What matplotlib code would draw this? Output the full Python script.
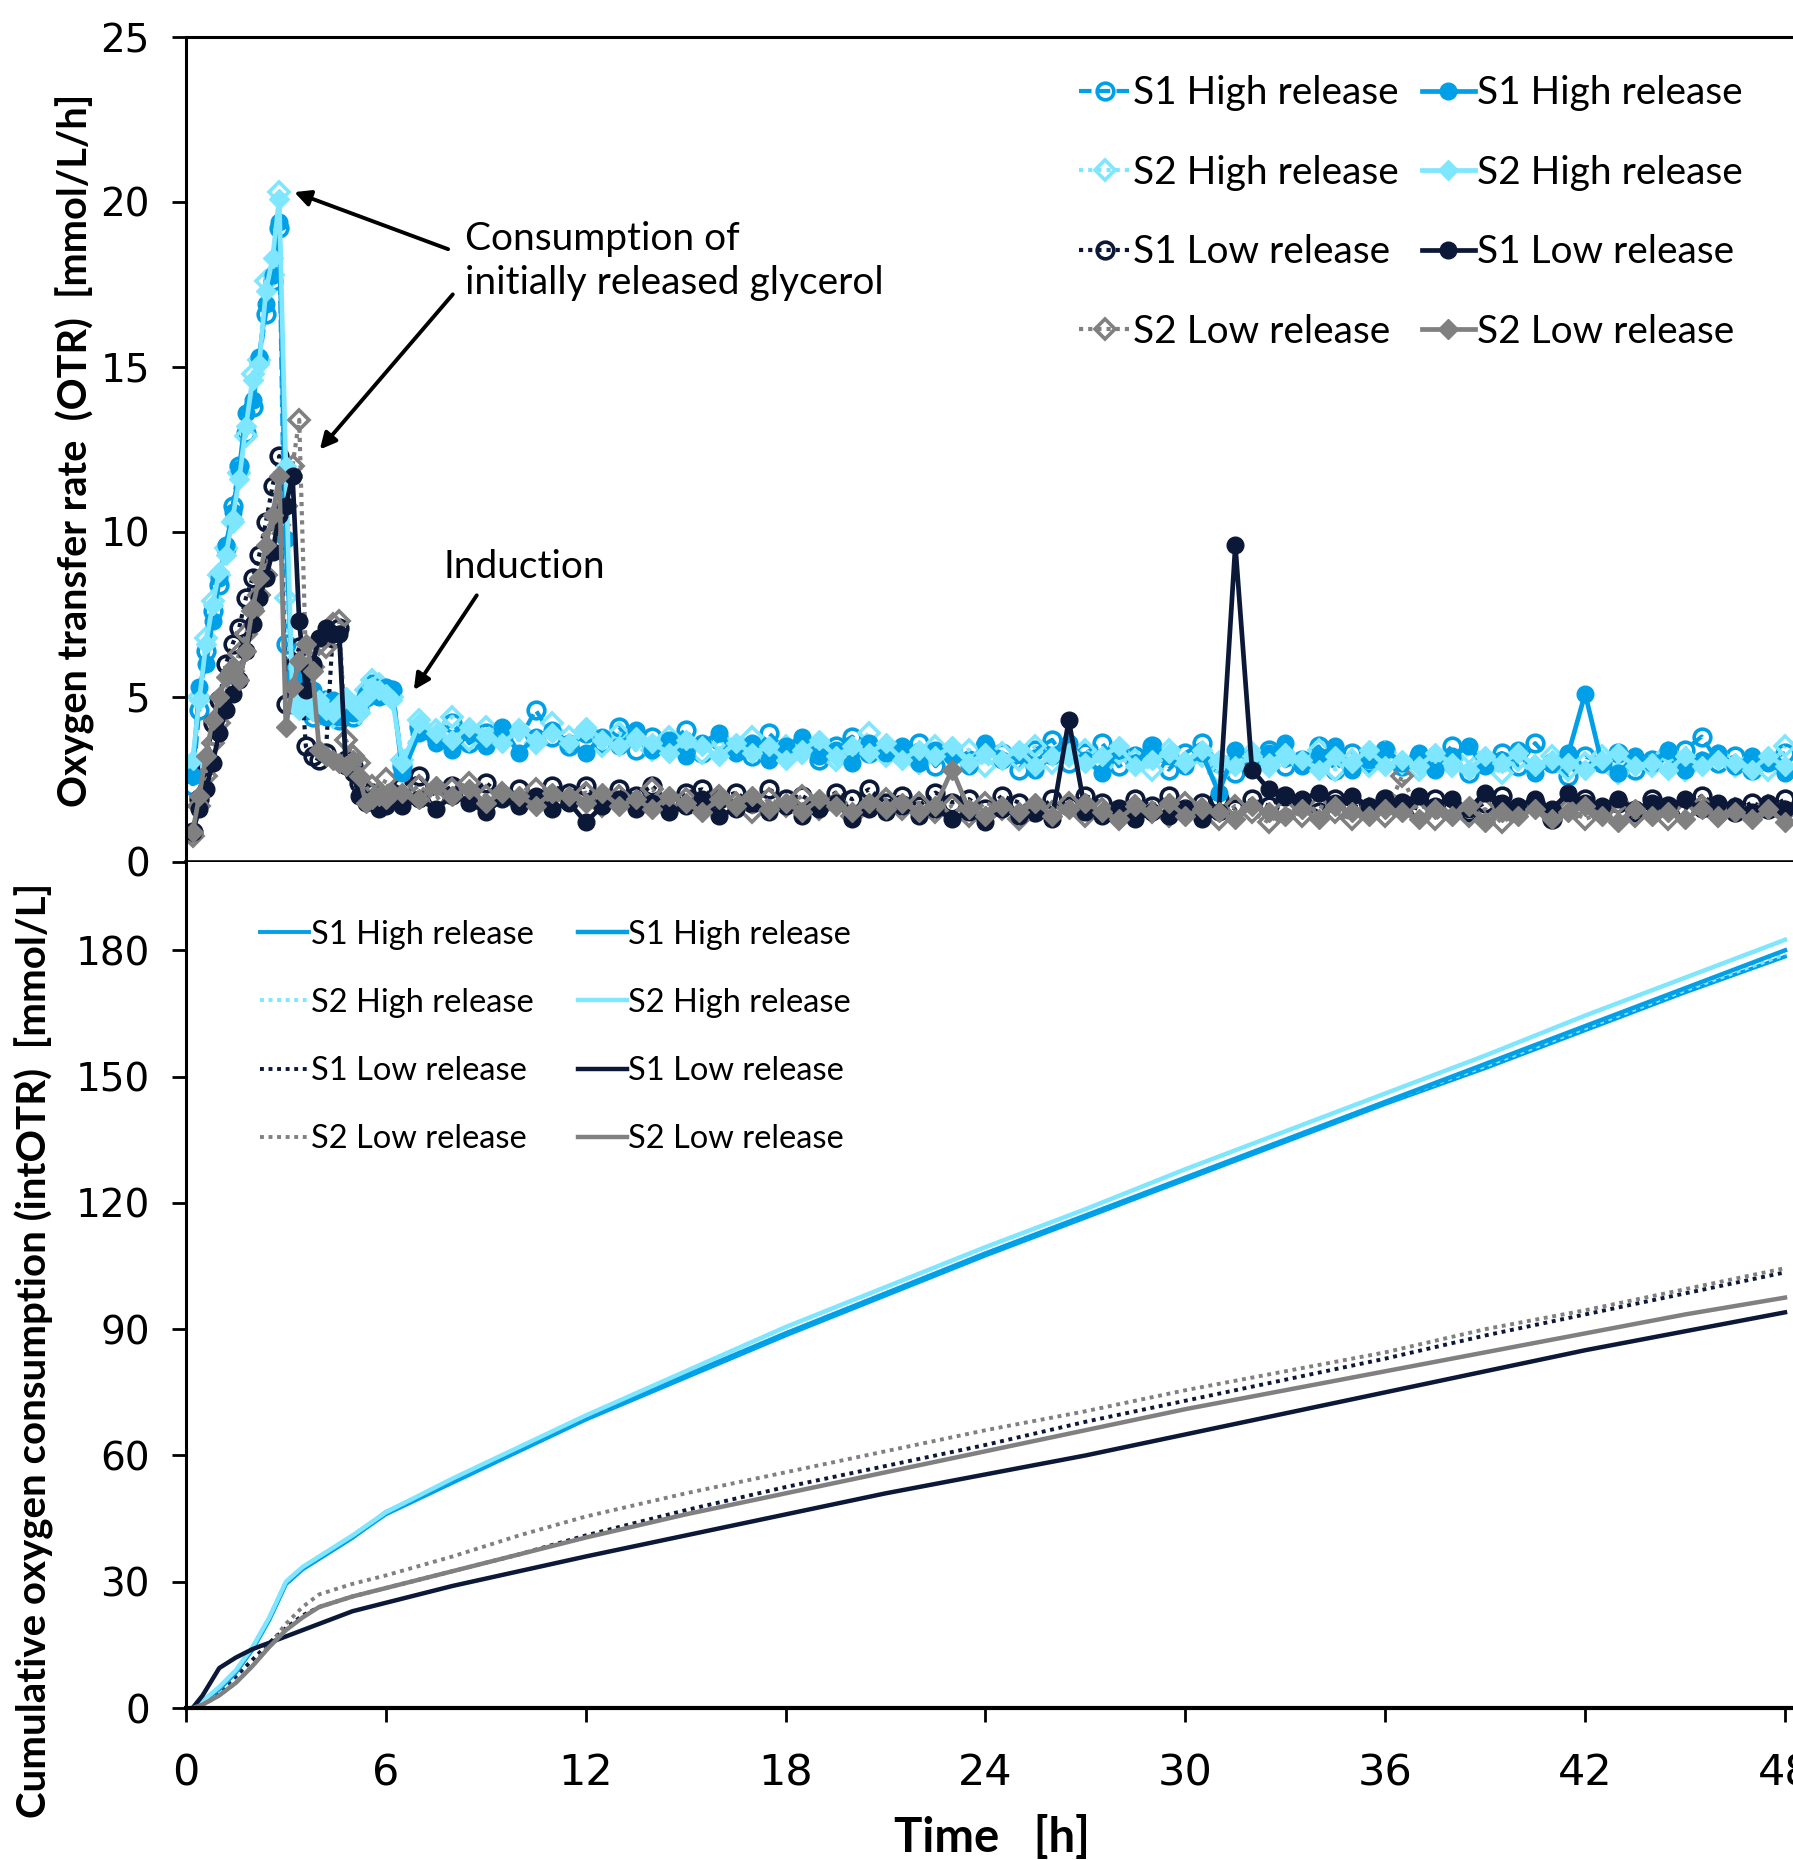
import numpy as np
import matplotlib
matplotlib.use("Agg")
import matplotlib.pyplot as plt

# ---- sampling times [h] ----
t_early = np.round(np.arange(0.2, 6.21, 0.2), 2)      # 0.2 ... 6.2
t_late = np.round(np.arange(6.5, 48.01, 0.5), 2)      # 6.5 ... 48.0

# ---- OTR [mmol/L/h] ----
s1h_o = [2.3, 4.6, 6.4, 7.6, 8.4, 9.5, 10.8, 12.0, 13.0, 13.8, 15.2, 16.6, 17.6, 19.2, 6.6, 4.8,
         5.0, 4.6, 4.4, 4.6, 4.9, 4.5, 4.3, 4.6, 4.4, 4.6, 5.0, 5.4, 5.3, 5.1, 5.2,
         2.9, 4.1, 3.8, 4.2, 3.6, 3.9, 4.0, 3.7, 4.6, 3.8,
         3.5, 3.9, 3.6, 4.1, 3.4, 3.8, 3.6, 4.0, 3.3, 3.7,
         3.5, 3.2, 3.9, 3.4, 3.6, 3.1, 3.5, 3.8, 3.3, 3.4,
         3.2, 3.6, 2.9, 3.4, 3.1, 3.5, 3.3, 2.8, 3.4, 3.7,
         3.0, 3.3, 3.6, 2.9, 3.2, 3.5, 2.8, 3.3, 3.6, 3.0,
         2.7, 3.2, 3.4, 2.9, 3.1, 3.5, 2.8, 3.3, 3.0, 3.4,
         2.9, 3.2, 3.0, 3.5, 2.7, 3.1, 3.3, 2.9, 3.6, 3.0,
         2.6, 3.2, 3.0, 3.3, 2.8, 3.1, 2.9, 3.4, 3.8, 3.0,
         3.2, 2.8, 3.1, 3.3]
s2h_o = [3.0, 5.0, 6.8, 7.9, 8.7, 9.5, 10.3, 11.8, 12.9, 14.8, 15.2, 17.6, 17.8, 20.3, 8.0, 5.0,
         4.8, 5.2, 4.6, 4.5, 4.8, 4.4, 4.6, 4.9, 4.7, 4.5, 5.2, 5.5, 5.4, 5.2, 5.0,
         3.1, 4.3, 4.0, 4.4, 3.7, 4.1, 3.8, 4.0, 3.6, 4.2,
         3.8, 4.0, 3.5, 3.9, 3.7, 3.4, 3.8, 3.6, 3.3, 3.7,
         3.4, 3.8, 3.2, 3.5, 3.3, 3.6, 3.1, 3.4, 3.9, 3.2,
         3.3, 3.0, 3.5, 3.2, 3.4, 2.9, 3.3, 3.1, 3.5, 3.0,
         3.2, 3.4, 2.9, 3.3, 3.1, 2.8, 3.4, 3.0, 3.2, 2.7,
         3.1, 3.3, 2.9, 3.2, 3.0, 3.4, 2.8, 3.1, 2.9, 3.3,
         3.0, 2.8, 3.2, 2.9, 3.3, 3.0, 2.7, 3.1, 2.9, 3.2,
         2.8, 3.0, 3.2, 2.7, 3.1, 2.9, 3.3, 2.8, 3.0, 3.2,
         2.9, 3.1, 2.8, 3.5]
s1l_o = [0.9, 1.9, 2.9, 4.2, 4.9, 6.0, 6.6, 7.1, 8.0, 8.6, 9.3, 10.3, 11.4, 12.3, 4.8, 5.9,
         6.5, 3.5, 3.2, 3.1, 3.3, 6.8, 7.1, 3.1, 2.9, 2.4, 1.9, 2.1, 1.9, 2.0, 2.1,
         2.3, 2.6, 2.0, 2.3, 2.1, 2.4, 2.0, 2.2, 1.9, 2.3,
         2.1, 2.3, 1.9, 2.2, 2.0, 2.3, 1.8, 2.1, 2.2, 1.9,
         2.1, 1.8, 2.2, 1.9, 2.0, 1.7, 2.1, 1.9, 2.2, 1.8,
         2.0, 1.7, 2.1, 1.8, 1.9, 1.6, 2.0, 1.8, 1.5, 1.9,
         1.7, 2.0, 1.8, 1.6, 1.9, 1.7, 2.0, 1.6, 1.8, 1.9,
         1.6, 1.9, 1.7, 2.0, 1.8, 1.5, 1.9, 1.7, 1.6, 1.9,
         1.8, 1.6, 1.9, 1.7, 1.5, 1.8, 2.0, 1.6, 1.8, 1.3,
         1.7, 1.9, 1.6, 1.8, 1.5, 1.9, 1.7, 1.6, 2.0, 1.7,
         1.5, 1.8, 1.6, 1.9]
s2l_o = [0.8, 1.7, 2.6, 3.6, 4.2, 5.1, 5.8, 6.3, 6.9, 7.6, 8.1, 8.7, 9.9, 10.2, 10.8, 12.0,
         13.4, 6.2, 5.9, 6.6, 6.5, 7.2, 7.3, 3.7, 3.2, 3.0, 2.2, 2.3, 2.1, 2.5, 2.0,
         2.0, 2.3, 1.9, 2.2, 2.4, 2.0, 2.1, 1.8, 2.2, 2.0,
         1.9, 2.1, 1.7, 2.0, 1.8, 2.2, 1.6, 1.9, 1.7, 2.0,
         1.8, 1.5, 1.9, 1.7, 2.0, 1.6, 1.8, 1.4, 1.7, 1.9,
         1.6, 1.8, 1.5, 1.7, 1.4, 1.8, 1.6, 1.3, 1.7, 1.5,
         1.8, 1.4, 1.6, 1.3, 1.7, 1.5, 1.4, 1.8, 1.6, 1.3,
         1.7, 1.5, 1.2, 1.6, 1.4, 1.7, 1.5, 1.3, 1.6, 1.4,
         2.6, 1.5, 1.3, 1.7, 1.4, 1.6, 1.2, 1.5, 1.7, 1.4,
         1.6, 1.3, 1.5, 1.8, 1.4, 1.6, 1.3, 1.5, 1.7, 1.4,
         1.6, 1.4, 1.7, 1.5]
s1h_f = [2.6, 5.3, 6.0, 7.3, 8.6, 9.6, 10.6, 11.9, 13.6, 14.0, 15.3, 16.9, 17.8, 19.4, 9.8, 5.6,
         5.4, 4.8, 5.2, 4.6, 4.4, 4.9, 4.4, 4.7, 4.5, 4.8, 5.1, 5.2, 5.0, 5.3, 5.2,
         2.7, 3.9, 3.6, 3.4, 3.9, 3.5, 4.1, 3.3, 3.8, 4.0,
         3.6, 3.3, 3.8, 3.5, 4.0, 3.4, 3.7, 3.2, 3.6, 3.9,
         3.3, 3.6, 3.1, 3.5, 3.8, 3.2, 3.4, 3.0, 3.6, 3.3,
         3.5, 3.0, 3.4, 3.2, 2.9, 3.6, 3.1, 3.3, 2.8, 3.2,
         3.6, 3.1, 2.7, 3.4, 3.0, 3.5, 3.2, 2.9, 3.3, 2.1,
         3.4, 3.0, 3.3, 3.6, 2.9, 3.2, 3.5, 2.8, 3.1, 3.4,
         3.0, 3.3, 2.8, 3.2, 3.5, 2.9, 3.1, 3.4, 2.7, 3.0,
         3.3, 5.1, 3.0, 2.7, 3.2, 3.0, 3.4, 2.8, 3.1, 3.3,
         2.9, 3.2, 3.0, 2.7]
s2h_f = [3.1, 4.9, 6.6, 7.8, 8.8, 9.3, 10.4, 11.6, 13.2, 14.6, 15.1, 17.3, 18.3, 20.1, 12.0, 4.8,
         4.6, 5.0, 4.7, 4.9, 4.6, 4.5, 4.8, 5.0, 4.8, 4.6, 5.0, 5.3, 5.2, 5.1, 4.9,
         3.0, 4.2, 3.9, 3.7, 4.1, 3.8, 3.6, 4.0, 3.7, 3.9,
         3.6, 4.1, 3.7, 3.5, 3.8, 3.6, 3.3, 3.7, 3.5, 3.2,
         3.6, 3.3, 3.5, 3.1, 3.4, 3.7, 3.2, 3.5, 3.3, 3.6,
         3.1, 3.4, 3.2, 3.5, 3.0, 3.3, 3.1, 3.4, 2.9, 3.2,
         3.3, 3.0, 3.2, 3.5, 2.9, 3.1, 3.3, 3.0, 3.4, 3.1,
         2.9, 3.2, 3.0, 3.3, 3.1, 2.8, 3.2, 3.0, 3.4, 2.9,
         3.1, 2.9, 3.3, 3.0, 2.8, 3.2, 3.0, 3.3, 2.9, 3.1,
         3.0, 2.8, 3.1, 3.3, 2.9, 3.0, 2.8, 3.2, 2.9, 3.1,
         3.0, 2.8, 3.2, 2.9]
s1l_f = [0.9, 1.6, 2.2, 3.0, 3.9, 4.6, 5.1, 5.5, 6.4, 7.2, 8.0, 8.6, 9.4, 10.5, 10.8, 11.7,
         7.3, 5.2, 6.0, 6.8, 7.1, 6.9, 6.9, 2.9, 2.7, 2.0, 1.8, 1.9, 1.6, 1.7, 1.9,
         1.7, 1.9, 1.6, 2.0, 1.8, 1.5, 1.9, 1.7, 2.0, 1.6,
         1.8, 1.2, 1.7, 1.9, 1.6, 1.8, 1.5, 1.7, 1.9, 1.4,
         1.6, 1.8, 1.5, 1.7, 1.4, 1.6, 1.8, 1.3, 1.6, 1.5,
         1.7, 1.4, 1.6, 1.3, 1.5, 1.2, 1.6, 1.4, 1.5, 1.3,
         4.3, 1.5, 1.4, 1.6, 1.3, 1.5, 1.4, 1.6, 1.3, 1.5,
         9.6, 2.8, 2.2, 2.0, 1.9, 2.1, 1.8, 2.0, 1.7, 1.9,
         1.8, 2.0, 1.7, 1.9, 1.6, 2.1, 1.8, 1.7, 1.9, 1.6,
         2.1, 1.8, 1.7, 1.9, 1.6, 1.8, 1.7, 1.9, 1.6, 1.8,
         1.7, 1.5, 1.8, 1.6]
s2l_f = [0.9, 2.0, 3.2, 4.3, 5.0, 5.6, 5.9, 5.5, 6.4, 7.7, 8.6, 9.6, 10.5, 11.7, 4.1, 5.3,
         6.1, 6.6, 5.8, 3.4, 3.2, 3.1, 3.0, 2.9, 3.1, 2.6, 1.8, 1.9, 2.0, 1.9, 2.1,
         2.1, 1.9, 2.3, 2.0, 2.2, 1.8, 2.1, 2.0, 1.7, 2.1,
         2.0, 1.8, 2.1, 1.7, 1.9, 1.6, 2.0, 1.8, 1.5, 1.9,
         1.7, 2.0, 1.6, 1.8, 1.5, 1.9, 1.7, 1.5, 1.8, 1.6,
         1.8, 1.5, 1.7, 2.8, 1.6, 1.4, 1.7, 1.5, 1.8, 1.4,
         1.6, 1.8, 1.5, 1.3, 1.7, 1.5, 1.8, 1.4, 1.6, 1.5,
         1.3, 1.7, 1.5, 1.4, 1.6, 1.3, 1.7, 1.5, 1.4, 1.6,
         1.5, 1.3, 1.6, 1.4, 1.7, 1.2, 1.5, 1.4, 1.6, 1.3,
         1.5, 1.7, 1.4, 1.2, 1.6, 1.4, 1.5, 1.3, 1.6, 1.4,
         1.5, 1.3, 1.6, 1.2]

# ---- cumulative oxygen consumption [mmol/L] ----
t_cum = [0.2, 0.5, 1.0, 1.5, 2.0, 2.5, 3.0, 3.5, 4.0, 5.0, 6.0, 8, 10, 12, 15, 18, 21, 24,
         27, 30, 33, 36, 39, 42, 45, 48]
cum_s1h_o = [0, 1.5, 4.5, 8.5, 14, 21, 29.5, 33, 35.5, 40.5, 46, 53.5, 61, 68.5, 78.5, 88.5,
             98, 107.5, 116.5, 125.5, 134.5, 143.5, 152, 161, 170, 178.5]
cum_s2h_o = [0, 1.7, 5, 9, 14.5, 21.5, 30, 33.5, 36, 41, 46.5, 54, 61.5, 69, 79, 89,
             98.5, 108, 117, 126, 135, 144, 152.5, 161.5, 170.5, 179]
cum_s1l_o = [0, 1, 4, 7.5, 11.5, 15.5, 19, 22, 24, 26.5, 28.5, 32.5, 36.5, 41, 47, 52.5,
             57.5, 62.5, 68, 73, 78, 83, 88.5, 93.5, 98.5, 103.5]
cum_s2l_o = [0, 0.7, 3, 6, 10, 15, 20, 24, 27, 29.5, 31.5, 36, 41, 45.5, 51, 56,
             61, 66, 70.5, 75.5, 80, 84.5, 90, 94.5, 99.5, 104.5]
cum_s1h_f = [0, 1.5, 4.5, 8.5, 14, 21, 29.5, 33, 35.5, 40.5, 46.5, 54, 61.5, 69, 79, 89,
             98.5, 108, 117, 126, 135, 144, 153, 162, 171, 180]
cum_s2h_f = [0, 1.7, 5, 9, 14.5, 21.5, 30, 33.5, 36, 41, 46.5, 54.5, 62, 69.5, 80, 90.5,
             100, 109.5, 118.5, 128, 137, 146, 155, 164.5, 173.5, 182.5]
cum_s1l_f = [0, 3, 9.5, 12, 14, 15.5, 17, 18.5, 20, 23, 25, 29, 32.5, 36, 41, 46,
             51, 55.5, 60, 65, 70, 75, 80, 85, 89.5, 94]
cum_s2l_f = [0, 0.8, 3, 6, 10, 14.5, 18.5, 21.5, 24, 26.5, 28.5, 32.5, 36.5, 40.5, 46, 51,
             56, 61, 66, 71, 75.5, 80, 84.5, 89, 93.5, 97.5]

labels = ["S1 High release", "S2 High release", "S1 Low release", "S2 Low release"]
colors = ["#00A0E9", "#7FE6FF", "#0C1838", "#808080"]

t_otr = np.concatenate([t_early, t_late])
otr_open = [s1h_o, s2h_o, s1l_o, s2l_o]
otr_filled = [s1h_f, s2h_f, s1l_f, s2l_f]
open_ls = [(0, (3, 1.5)), (0, (1, 1.2)), (0, (1, 1.2)), (0, (1, 1.2))]
markers = ["o", "D", "o", "D"]
cum_open = [cum_s1h_o, cum_s2h_o, cum_s1l_o, cum_s2l_o]
cum_filled = [cum_s1h_f, cum_s2h_f, cum_s1l_f, cum_s2l_f]
cum_ls = ["-", (0, (1, 1.2)), (0, (1, 1.2)), (0, (1, 1.2))]

txt_font = "Lato"
lab_font = ["Liberation Sans Narrow", "Lato"]

fig = plt.figure(figsize=(17.93, 18.60), dpi=100)
ax1 = fig.add_axes([0.1037, 0.5366, 0.8963, 0.4435])
ax2 = fig.add_axes([0.1037, 0.0817, 0.8963, 0.4549])

# ---- top panel: OTR ----
for i in range(4):
    ax1.plot(t_otr, otr_open[i], color=colors[i], ls=open_ls[i], lw=3.0, marker=markers[i],
             ms=12 if markers[i] == "o" else 10, mfc="none", mec=colors[i], mew=2.6,
             label=labels[i])
for i in range(4):
    ax1.plot(t_otr, otr_filled[i], color=colors[i], ls="-", lw=3.4, marker=markers[i],
             ms=12 if markers[i] == "o" else 10, mfc=colors[i], mec=colors[i], label=labels[i])

ax1.set_xlim(0, 48.24)
ax1.set_ylim(0, 25)
ax1.set_yticks([0, 5, 10, 15, 20, 25])
ax1.set_xticks(range(0, 49, 6))
ax1.tick_params(axis="x", direction="out", length=10, width=2, labelbottom=False)
ax1.tick_params(axis="y", direction="out", length=10, width=2, labelsize=28, pad=16)
ax1.spines["right"].set_visible(False)
for s in ["left", "top", "bottom"]:
    ax1.spines[s].set_linewidth(2.2)
ax1.spines["bottom"].set_linewidth(2.6)

leg1 = ax1.legend(ncol=2, loc="upper right", bbox_to_anchor=(0.983, 0.982), frameon=False,
                  prop={"family": txt_font, "size": 28}, handlelength=1.35, handletextpad=0.05,
                  columnspacing=0.6, labelspacing=1.12, borderaxespad=0.2)

arrow = dict(arrowstyle="-|>", color="black", lw=2.8, mutation_scale=24, shrinkA=0, shrinkB=0)
ax1.text(8.37, 18.21, "Consumption of\ninitially released glycerol", fontsize=28,
         family=txt_font, ha="left", va="center", linespacing=1.3)
ax1.annotate("", xy=(3.25, 20.3), xytext=(7.87, 18.57), arrowprops=arrow)
ax1.annotate("", xy=(4.02, 12.5), xytext=(8.01, 17.2), arrowprops=arrow)
ax1.text(7.73, 8.94, "Induction", fontsize=28, family=txt_font, ha="left", va="center")
ax1.annotate("", xy=(6.84, 5.21), xytext=(8.73, 8.08), arrowprops=arrow)

# ---- bottom panel: cumulative ----
for i in range(4):
    ax2.plot(t_cum, cum_open[i], color=colors[i], ls=cum_ls[i], lw=2.8, label=labels[i])
for i in range(4):
    ax2.plot(t_cum, cum_filled[i], color=colors[i], ls="-", lw=3.2, label=labels[i])

ax2.set_xlim(0, 48.24)
ax2.set_ylim(0, 201)
ax2.set_yticks(range(0, 181, 30))
ax2.set_xticks(range(0, 49, 6))
ax2.tick_params(axis="x", direction="out", length=10, width=2, labelsize=31, pad=22)
ax2.tick_params(axis="y", direction="out", length=10, width=2, labelsize=28, pad=16)
ax2.spines["right"].set_visible(False)
ax2.spines["top"].set_visible(False)
ax2.spines["left"].set_linewidth(2.2)
ax2.spines["bottom"].set_linewidth(3.0)

leg2 = ax2.legend(ncol=2, loc="upper left", bbox_to_anchor=(0.034, 0.955), frameon=False,
                  prop={"family": txt_font, "size": 23.5}, handlelength=1.5, handletextpad=0.05,
                  columnspacing=1.35, labelspacing=1.17, borderaxespad=0.2)

fig.text(0.042, 0.758, "Oxygen transfer rate  (OTR)  [mmol/L/h]", rotation=90, ha="center",
         va="center", fontsize=28.5, fontweight="bold", family=lab_font)
fig.text(0.019, 0.274, "Cumulative oxygen consumption (intOTR)  [mmol/L]", rotation=90,
         ha="center", va="center", fontsize=29, fontweight="bold", family=lab_font)
fig.text(0.553, 0.012, "Time   [h]", ha="center", va="center", fontsize=34, fontweight="bold",
         family=lab_font)

fig.savefig("out.png", dpi=100)
